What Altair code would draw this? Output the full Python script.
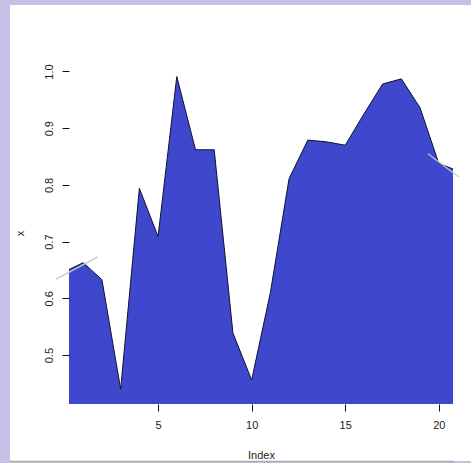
import altair as alt
import pandas as pd

# Series values, one per index (0 and 21 carry the polygon past the plot edges)
index = list(range(0, 22))
values = [0.647, 0.663, 0.633, 0.440, 0.794, 0.709, 0.991, 0.862, 0.862, 0.539, 0.456,
          0.610, 0.811, 0.879, 0.876, 0.870, 0.925, 0.978, 0.987, 0.936, 0.838, 0.825]

# Two light reference segments drawn across the series
seg_x = [-0.45, 19.42]
seg_x2 = [1.77, 21.07]
seg_y = [0.634, 0.855]
seg_y2 = [0.673, 0.814]

x_ticks = [5, 10, 15, 20]
y_ticks = [0.5, 0.6, 0.7, 0.8, 0.9, 1.0]

x_domain = [0.24, 20.76]
y_domain = [0.4138, 1.0132]

W, H = 384, 340
PAD = {"left": 69, "top": 64, "right": 18, "bottom": 59}

df = pd.DataFrame({"Index": index, "x": values})
segs = pd.DataFrame({"x": seg_x, "x2": seg_x2, "y": seg_y, "y2": seg_y2})

xs = alt.Scale(domain=x_domain, nice=False, zero=False)
ys = alt.Scale(domain=y_domain, nice=False, zero=False)

x_axis = alt.Axis(values=x_ticks, format="d", title="Index", grid=False, domain=False,
                  tickSize=7, tickColor="#111", labelPadding=8, labelFontSize=11,
                  labelColor="#222", labelFont="Liberation Sans",
                  titleFont="Liberation Sans", titleFontSize=11, titleFontWeight="normal",
                  titleColor="#222", titleY=51, titleBaseline="middle", zindex=1)
y_axis = alt.Axis(values=y_ticks, format=".1f", title="x", grid=False, domain=False,
                  tickSize=7, tickColor="#111", labelAngle=270, labelAlign="center",
                  labelBaseline="bottom", labelPadding=8, labelFontSize=11,
                  labelColor="#222", labelFont="Liberation Sans",
                  titleFont="Liberation Sans", titleFontSize=11, titleFontWeight="normal",
                  titleColor="#222", titleAngle=270, titleX=-49, titleY=H / 2 - 1,
                  titleBaseline="middle", titleAlign="center", zindex=1)

# White page over the lavender frame
page = alt.Chart(pd.DataFrame({"a": [0]})).mark_rect(color="white", clip=False).encode(
    x=alt.value(10 - PAD["left"]), x2=alt.value(471 - PAD["left"]),
    y=alt.value(5 - PAD["top"]), y2=alt.value(461 - PAD["top"]),
)
bottom_line = alt.Chart(pd.DataFrame({"a": [0]})).mark_rule(color="#aaaaaa", strokeWidth=1.5, clip=False).encode(
    x=alt.value(10 - PAD["left"]), x2=alt.value(454 - PAD["left"]),
    y=alt.value(461.5 - PAD["top"]),
)

area = alt.Chart(df).mark_area(color="#3F48CC", opacity=1, clip=True).encode(
    x=alt.X("Index:Q", scale=xs, axis=x_axis),
    y=alt.Y("x:Q", scale=ys, axis=y_axis),
    y2=alt.value(H + 5),
)
outline = alt.Chart(df).mark_line(color="#101030", strokeWidth=1, clip=True).encode(
    x=alt.X("Index:Q", scale=xs),
    y=alt.Y("x:Q", scale=ys),
)
rules = alt.Chart(segs).mark_rule(color="#c8c8c8", strokeWidth=1.5, opacity=0.9, clip=False).encode(
    x=alt.X("x:Q", scale=xs), x2="x2:Q",
    y=alt.Y("y:Q", scale=ys), y2="y2:Q",
)

chart = alt.layer(page, bottom_line, area, outline, rules).properties(
    width=W, height=H, padding=PAD, autosize="none", background="#C8BFE7",
).configure_view(stroke="#333333", strokeWidth=1.2, fill=None)

chart.save("out.html", embed_options={"renderer": "svg", "actions": False})
